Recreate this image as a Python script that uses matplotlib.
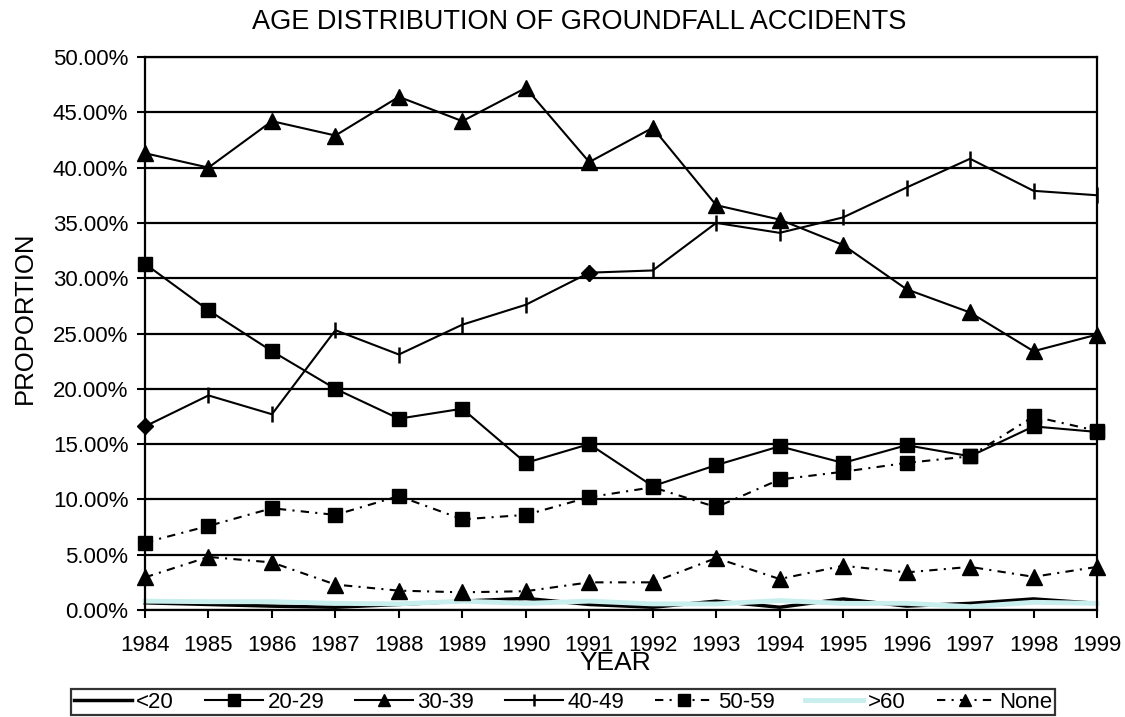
import matplotlib
matplotlib.use("Agg")
import matplotlib.pyplot as plt
from matplotlib.ticker import FuncFormatter, MultipleLocator

plt.rcParams["font.family"] = ["Liberation Sans", "DejaVu Sans"]

years = list(range(1984, 2000))
under_20 = [0.65, 0.5, 0.35, 0.25, 0.5, 0.8, 1.05, 0.5, 0.25, 0.8, 0.25, 1.0, 0.35, 0.6, 1.0, 0.6]
age_20_29 = [31.3, 27.1, 23.4, 20.0, 17.3, 18.2, 13.3, 15.0, 11.2, 13.1, 14.8, 13.3, 14.9, 13.9, 16.6, 16.1]
age_30_39 = [41.3, 40.0, 44.2, 42.9, 46.4, 44.2, 47.2, 40.5, 43.6, 36.6, 35.3, 33.0, 29.0, 26.9, 23.4, 24.9]
age_40_49 = [16.6, 19.4, 17.7, 25.3, 23.1, 25.8, 27.6, 30.5, 30.7, 35.0, 34.1, 35.5, 38.2, 40.8, 37.9, 37.5]
age_50_59 = [6.1, 7.6, 9.2, 8.6, 10.3, 8.2, 8.6, 10.2, 11.1, 9.3, 11.8, 12.5, 13.3, 13.9, 17.5, 16.2]
over_60 = [0.8, 0.75, 0.75, 0.6, 0.55, 0.8, 0.6, 0.8, 0.55, 0.55, 0.85, 0.6, 0.6, 0.3, 0.7, 0.6]
none = [2.95, 4.8, 4.3, 2.3, 1.75, 1.6, 1.7, 2.5, 2.5, 4.7, 2.8, 4.0, 3.4, 3.9, 3.0, 3.9]

dashdot = (0, (4, 3, 1, 3))


def main():
    fig = plt.figure(figsize=(11.25, 7.17), dpi=100)
    ax = fig.add_axes([145 / 1125, 1 - 610 / 717, (1097 - 145) / 1125, (610 - 57) / 717])
    plot_data(ax)
    set_properties(fig, ax)
    fig.savefig("out.png", dpi=100)


def plot_data(ax):
    ax.plot(years, under_20, color="black", lw=2.5, label="<20", clip_on=False)
    ax.plot(years, age_20_29, color="black", lw=1.5, marker="s", ms=10, label="20-29", clip_on=False)
    ax.plot(years, age_30_39, color="black", lw=1.5, marker="^", ms=11, label="30-39", clip_on=False)
    ax.plot(years, age_40_49, color="black", lw=1.5, marker="|", ms=11, mew=1.8,
            label="40-49", clip_on=False)
    # excel drew two of these points as diamonds
    ax.plot(years, age_40_49, color="black", lw=0, marker="D", ms=8, markevery=[0, 7], clip_on=False)
    ax.plot(years, age_50_59, color="black", lw=1.5, ls=dashdot, marker="s", ms=10,
            label="50-59", clip_on=False)
    ax.plot(years, over_60, color="#c8eeee", lw=3.5, label=">60", clip_on=False)
    ax.plot(years, none, color="black", lw=1.5, ls=dashdot, marker="^", ms=11,
            label="None", clip_on=False)


def set_properties(fig, ax):
    ax.set_xlim(1984, 1999)
    ax.set_ylim(0, 50)
    ax.set_xticks(years)
    ax.yaxis.set_major_locator(MultipleLocator(5))
    ax.yaxis.set_major_formatter(FuncFormatter(lambda v, p: f"{v:.2f}%"))
    ax.grid(axis="y", color="black", lw=1.6)
    ax.set_axisbelow(True)
    for sp in ax.spines.values():
        sp.set_linewidth(1.6)
    ax.tick_params(axis="both", direction="out", length=6, width=1.5, labelsize=16)
    ax.tick_params(axis="y", pad=6)
    ax.tick_params(axis="x", pad=12)

    fig.text(0.515, 1 - 22 / 717, "AGE DISTRIBUTION OF GROUNDFALL ACCIDENTS",
             ha="center", va="center", fontsize=19.5)
    fig.text(615 / 1125, 1 - 663 / 717, "YEAR", ha="center", va="center", fontsize=19)
    fig.text(25 / 1125, 1 - 318 / 717, "PROPORTION", ha="center", va="center",
             rotation=90, fontsize=18.5)

    handles, labels = ax.get_legend_handles_labels()
    leg = fig.legend(handles, labels, loc="center", ncol=7,
                     bbox_to_anchor=(563 / 1125, 1 - 702 / 717),
                     fontsize=16, frameon=True, fancybox=False, edgecolor="black",
                     handlelength=2.6, handletextpad=0.2, columnspacing=1.4,
                     borderpad=0.12, borderaxespad=0, markerscale=0.8)
    leg.get_frame().set_linewidth(1.6)


if __name__ == "__main__":
    main()
